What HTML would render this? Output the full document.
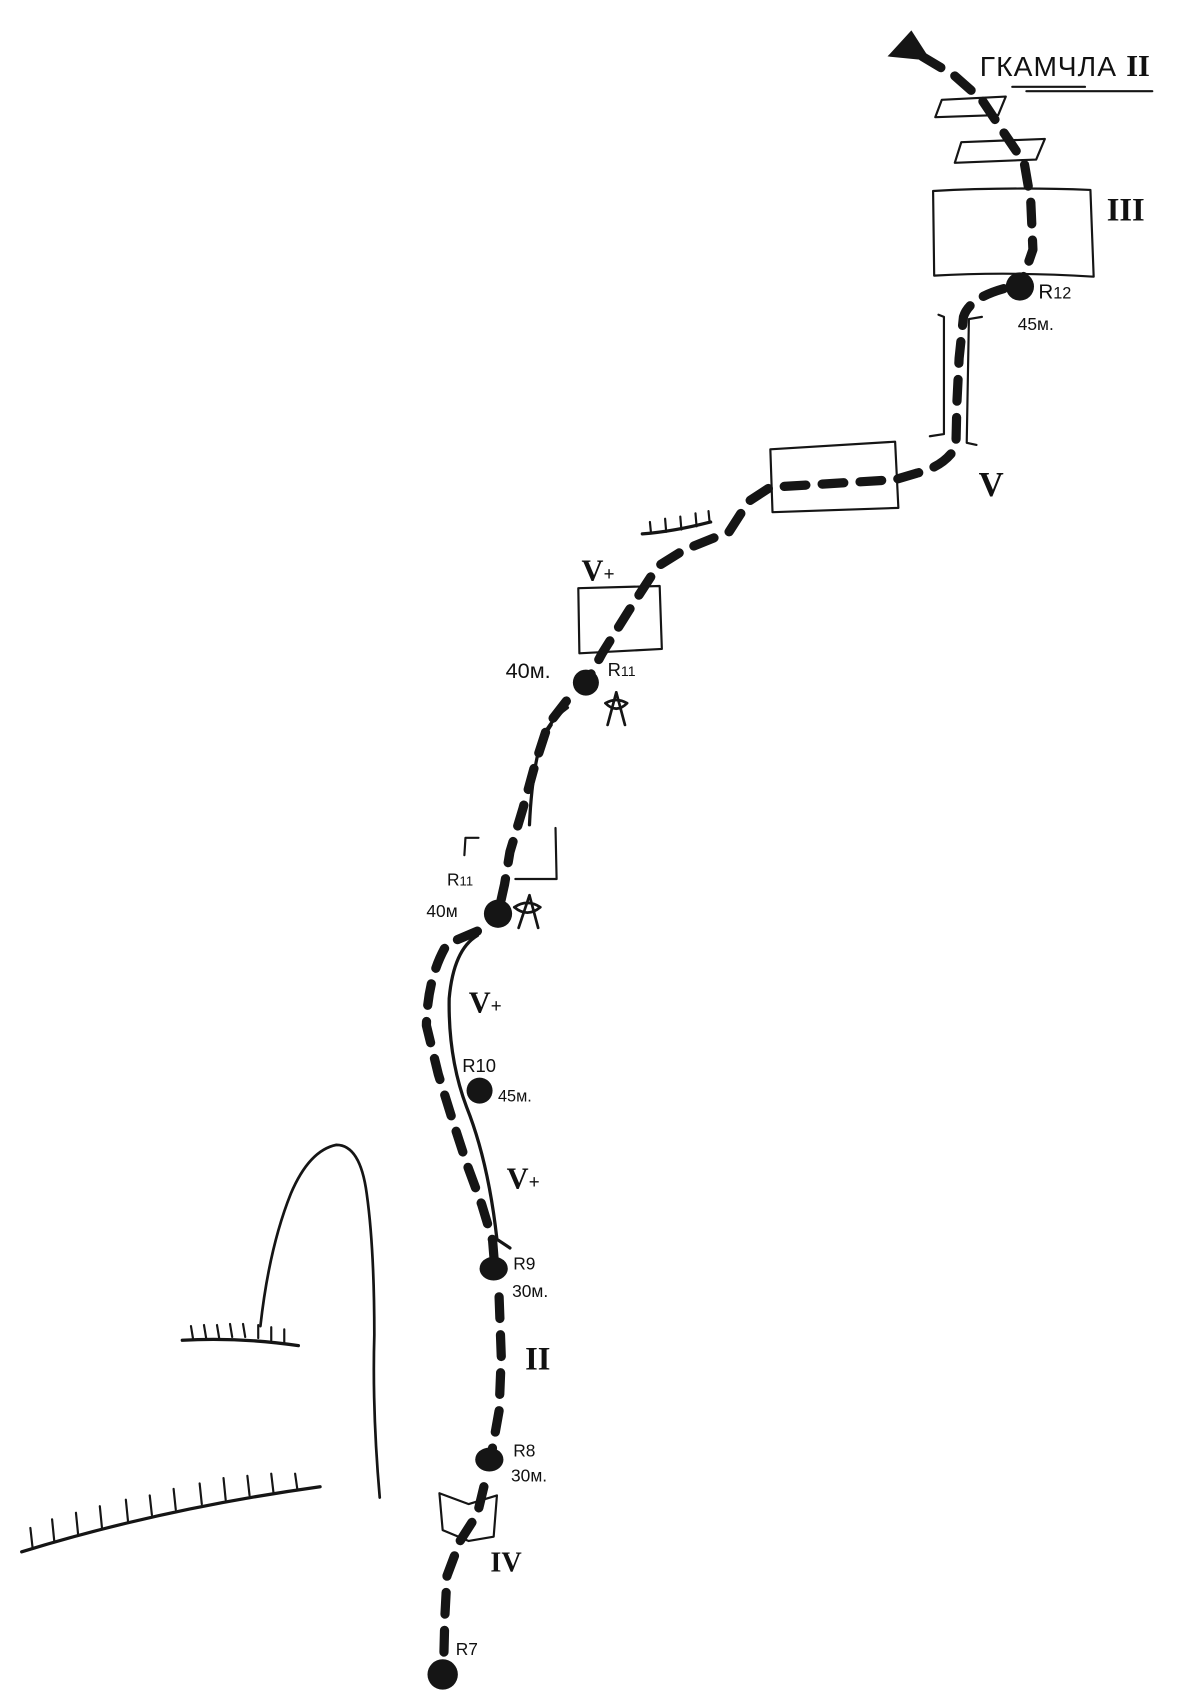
<!DOCTYPE html>
<html><head><meta charset="utf-8"><style>
html,body{margin:0;padding:0;background:#fff;width:1200px;height:1694px;overflow:hidden}
svg{display:block}
text{font-family:"Liberation Sans","DejaVu Sans",sans-serif;fill:#111}
.rn{font-family:"Liberation Serif",serif;font-weight:bold}
</style></head><body>
<svg width="1200" height="1694" viewBox="0 0 1106 1561" preserveAspectRatio="none" xmlns="http://www.w3.org/2000/svg">
<g fill="none" stroke="#151515" stroke-linecap="round" stroke-linejoin="round">
<g stroke-width="8.5" stroke-dasharray="20 15">
<path d="M850,52 L880,70 L905,92 L925,122 L944,150 L950,185 L952,230 L941,262"/>
<path d="M925,266 Q893,275 888,292 L884,330 L882,370 L881,412 Q870,430 845,436 L825,442 L710,449 L690,462 L672,490 L630,507 L606,522 L580,562 L555,602 L541,628"/>
<path d="M522,646 L505,668 L493,705 L482,745 L470,785 L465,815 L459,842"/>
<path d="M440,858 L412,870 Q394,900 393,945 L404,990 L417,1032 L430,1072 L444,1110 L454,1143 L456,1168"/>
<path d="M460,1195 L462,1250 L460,1300 L452,1345"/>
<path d="M446,1370 L440,1395 L424,1420 L412,1452 L410,1490 L409,1530"/>
</g>
<g stroke-width="3">
<path d="M523,652 Q505,665 498,685 Q490,715 488,760"/>
<path d="M508,668 L498,684"/>
<path d="M440,862 Q418,875 414,920 Q413,975 430,1020 Q450,1070 458,1142 L470,1150"/>
</g>
<path stroke-width="2.5" d="M240,1222 Q248,1150 268,1100 Q285,1060 310,1055 Q332,1055 338,1100 Q345,1150 345,1230 Q343,1300 350,1380"/>
<g stroke-width="3">
<path d="M168,1235 Q220,1232 275,1240"/>
<path d="M20,1430 Q150,1390 295,1370"/>
<path d="M592,492 Q620,490 655,481"/>
</g>
<g stroke-width="2">
<path d="M178,1234 L176,1222 M190,1233 L188,1221 M202,1233 L200,1221 M214,1232 L212,1220 M226,1232 L224,1220 M238,1233 L238,1221 M250,1235 L250,1223 M262,1237 L262,1225"/>
<path d="M30,1426 L28,1408 M50,1420 L48,1400 M72,1414 L70,1394 M94,1408 L92,1388 M118,1402 L116,1382 M140,1396 L138,1378 M162,1391 L160,1372 M186,1386 L184,1367 M208,1382 L206,1362 M230,1378 L228,1360 M252,1375 L250,1358 M274,1372 L272,1358"/>
<path d="M600,491 L599,481 M614,490 L613,478 M628,488 L627,476 M642,485 L641,473 M654,481 L653,471"/>
</g>
<g stroke-width="2">
<path d="M868,92 L927,89 L920,106 L862,108 Z"/>
<path d="M886,131 L963,128 L955,147 L880,150 Z"/>
<path d="M860,176 Q930,172 1005,175 L1008,255 Q930,250 861,254 Z"/>
<path d="M865,290 L870,292 L870,400 L857,402"/>
<path d="M905,292 L893,294 L891,408 L900,410"/>
<path d="M710,414 L825,407 L828,468 L712,472 Z"/>
<path d="M533,542 L608,540 L610,598 L534,602 Z"/>
<path d="M428,788 L429,772 L441,772"/>
<path d="M512,763 L513,810 L475,810"/>
<path d="M405,1376 L432,1386 L458,1378 L455,1416 L432,1420 L408,1410 Z"/>
<path d="M933,80 L1000,80"/>
<path d="M946,84 L1062,84"/>
</g>
<g stroke-width="2.5">
<path d="M568,638 L560,668 M568,638 L576,668 M558,648 Q568,642 578,648 Q568,658 558,648"/>
<path d="M488,825 L478,855 M488,825 L496,855 M474,836 Q486,828 498,836 Q486,846 474,836"/>
</g>
</g>
<path d="M818,52 L840,28 L858,56 Z" fill="#151515"/>
<g fill="#151515">
<circle cx="940" cy="264" r="13"/>
<circle cx="540" cy="629" r="12"/>
<circle cx="459" cy="842" r="13"/>
<circle cx="442" cy="1005" r="12"/>
<ellipse cx="455" cy="1169" rx="13" ry="11"/>
<ellipse cx="451" cy="1345" rx="13" ry="11"/>
<circle cx="408" cy="1543" r="14"/>
</g>
<text x="903" y="70" font-size="26" letter-spacing="1">ГКАМЧЛА</text>
<text x="1038" y="70" font-size="28" class="rn">II</text>
<text x="1020" y="203" font-size="30" class="rn">III</text>
<text x="902" y="457" font-size="32" class="rn">V</text>
<text x="536" y="535" font-size="28" class="rn">V<tspan font-size="18">+</tspan></text>
<text x="432" y="933" font-size="28" class="rn">V<tspan font-size="18">+</tspan></text>
<text x="467" y="1095" font-size="28" class="rn">V<tspan font-size="18">+</tspan></text>
<text x="484" y="1262" font-size="30" class="rn">II</text>
<text x="452" y="1448" font-size="26" class="rn">IV</text>
<text x="957" y="275" font-size="19">R<tspan font-size="15">12</tspan></text>
<text x="938" y="304" font-size="16">45м.</text>
<text x="466" y="625" font-size="20">40м.</text>
<text x="560" y="623" font-size="17">R<tspan font-size="13">11</tspan></text>
<text x="412" y="816" font-size="16">R<tspan font-size="12">11</tspan></text>
<text x="393" y="845" font-size="16">40м</text>
<text x="426" y="988" font-size="17">R10</text>
<text x="459" y="1015" font-size="15">45м.</text>
<text x="473" y="1170" font-size="16">R9</text>
<text x="472" y="1195" font-size="16">30м.</text>
<text x="473" y="1342" font-size="16">R8</text>
<text x="471" y="1365" font-size="16">30м.</text>
<text x="420" y="1525" font-size="16">R7</text>
</svg>
</body></html>
